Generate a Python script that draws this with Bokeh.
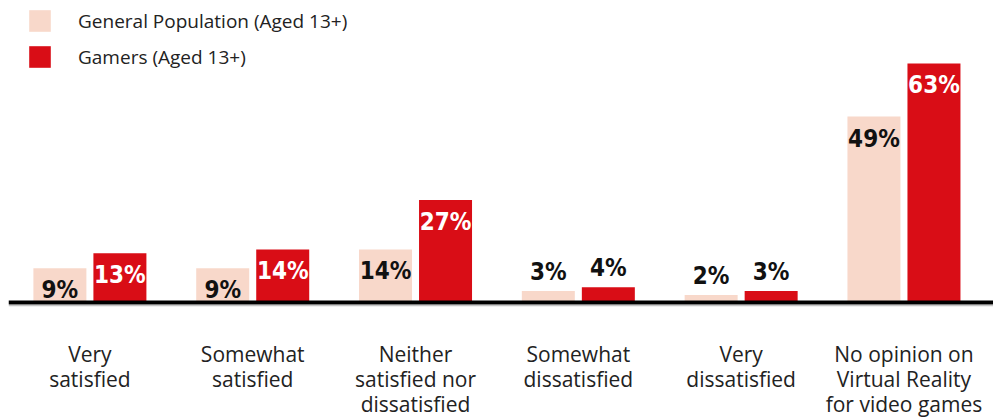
from bokeh.plotting import figure
from bokeh.models import ColumnDataSource, Span, Legend, LegendItem
from bokeh.core.properties import value
from bokeh.embed import file_html
from bokeh.resources import INLINE

# ---- data ----
categories = ["Very satisfied", "Somewhat satisfied", "Neither satisfied nor dissatisfied",
              "Somewhat dissatisfied", "Very dissatisfied",
              "No opinion on Virtual Reality for video games"]
category_labels = ["Very\nsatisfied", "Somewhat\nsatisfied", "Neither\nsatisfied nor\ndissatisfied",
                   "Somewhat\ndissatisfied", "Very\ndissatisfied",
                   "No opinion on\nVirtual Reality\nfor video games"]
general = [9, 9, 14, 3, 2, 49]
gamers = [13, 14, 27, 4, 3, 63]
series_names = ["General Population (Aged 13+)", "Gamers (Aged 13+)"]

# ---- style ----
PALE = "#F8D8CA"
RED = "#D90D16"
TEXT = "#222222"
W, H = 993, 417
OFF = 0.1843
BW = 0.3255
INSIDE_MIN = 9

pos = list(range(len(categories)))

p = figure(x_range=(-0.5, 5.55), y_range=(-30.31, 79.6),
           width=W, height=H, output_backend="svg", toolbar_location=None,
           min_border=0, min_border_left=8)
p.xaxis.visible = False
p.yaxis.visible = False
p.xgrid.visible = False
p.ygrid.visible = False
p.outline_line_color = None
p.background_fill_color = "white"
p.border_fill_color = "white"

x_gen = [i - OFF for i in pos]
x_gam = [i + OFF for i in pos]

src = ColumnDataSource(dict(xg=x_gen, xm=x_gam, gen=general, gam=gamers))

r1 = p.vbar(x="xg", top="gen", bottom=0, width=BW, source=src,
            fill_color=PALE, line_color=None)
r2 = p.vbar(x="xm", top="gam", bottom=0, width=BW, source=src,
            fill_color=RED, line_color=None)

p.add_layout(Span(location=-0.85, dimension="width", line_color="#b5b5b5", line_width=1))
p.add_layout(Span(location=0, dimension="width", line_color="black", line_width=4))

LABEL_FONT = value("DejaVu Sans Condensed")


def add_labels(xs, vals, inside_color):
    ins = [i for i, v in enumerate(vals) if v >= INSIDE_MIN]
    outs = [i for i, v in enumerate(vals) if v < INSIDE_MIN]
    s_in = ColumnDataSource(dict(x=[xs[i] for i in ins], v=[vals[i] for i in ins],
                                 t=[f"{vals[i]}%" for i in ins]))
    s_out = ColumnDataSource(dict(x=[xs[i] for i in outs], v=[vals[i] for i in outs],
                                  t=[f"{vals[i]}%" for i in outs]))
    p.text(x="x", y="v", text="t", source=s_in,
           text_align="center", text_baseline="top", y_offset=8,
           text_font=LABEL_FONT, text_font_style="bold", text_font_size="24px",
           text_color=inside_color)
    p.text(x="x", y="v", text="t", source=s_out,
           text_align="center", text_baseline="bottom", y_offset=-5,
           text_font=LABEL_FONT, text_font_style="bold", text_font_size="24px",
           text_color="#111111")


add_labels(x_gen, general, "#111111")
add_labels(x_gam, gamers, "white")

csrc = ColumnDataSource(dict(x=pos, y=[0] * len(pos), t=category_labels))
p.text(x="x", y="y", text="t", source=csrc, y_offset=37,
       text_align="center", text_baseline="top", text_line_height=0.9,
       text_font=value("Open Sans"), text_font_size="21px", text_color=TEXT)

legend = Legend(items=[LegendItem(label=series_names[0], renderers=[r1]),
                       LegendItem(label=series_names[1], renderers=[r2])],
                location=(18, H - 70), orientation="vertical",
                glyph_width=27, glyph_height=27, label_standoff=25, spacing=9,
                padding=0, margin=0, border_line_alpha=0, background_fill_alpha=0,
                label_text_font="Open Sans", label_text_font_size="19px",
                label_text_color=TEXT, label_height=27, label_text_baseline="middle")
p.add_layout(legend)

open("out.html", "w").write(file_html(p, INLINE))
